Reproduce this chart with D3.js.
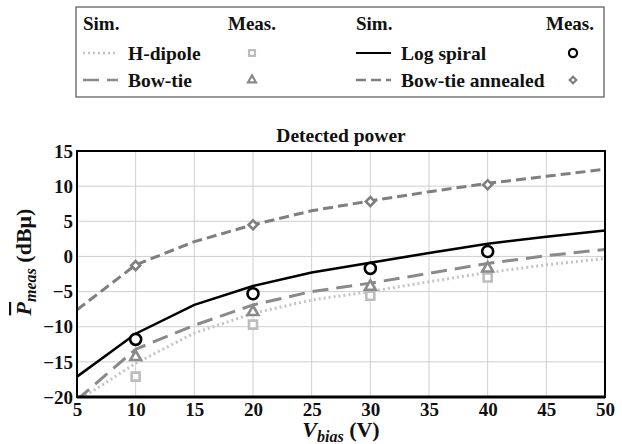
<!DOCTYPE html>
<html lang="en">
<head>
<meta charset="UTF-8">
<title>Detected power</title>
<script src="https://cdn.jsdelivr.net/npm/d3@7"></script>
<style>
  body { margin: 0; background: #fff; }
</style>
</head>
<body>
<svg width="622" height="444" id="mainsvg"></svg>
<script>
// simulated curves, sampled every 5 V
const simV = [5, 10, 15, 20, 25, 30, 35, 40, 45, 50]
const simHDipole = [-20.6, -15.2, -10.9, -8.1, -6.2, -5.0, -3.6, -2.3, -1.2, -0.3]
const simBowtie = [-20.4, -13.2, -9.8, -6.9, -5.0, -3.8, -2.4, -1.0, 0.1, 1.0]
const simLogSpiral = [-17.1, -11.0, -6.9, -4.2, -2.3, -0.9, 0.5, 1.8, 2.8, 3.7]
const simAnnealed = [-7.6, -1.2, 2.1, 4.5, 6.5, 7.9, 9.2, 10.4, 11.4, 12.4]

// measured points
const measV = [10, 20, 30, 40]
const measHDipole = [-17.1, -9.7, -5.6, -3.0]
const measBowtie = [-14.3, -7.9, -4.3, -1.7]
const measLogSpiral = [-11.8, -5.3, -1.7, 0.7]
const measAnnealed = [-1.3, 4.5, 7.8, 10.2]

const xTicks = [5, 10, 15, 20, 25, 30, 35, 40, 45, 50]
const yTicks = [-20, -15, -10, -5, 0, 5, 10, 15]

const FONT = "'Liberation Serif', 'DejaVu Serif', serif"

const series = [
  { name: 'H-dipole', sim: simHDipole, meas: measHDipole, color: '#c4c4c4', mcolor: '#bdbdbd', width: 3, dash: '2,3', symbol: d3.symbolSquare, msize: 64, rot: 0 },
  { name: 'Bow-tie', sim: simBowtie, meas: measBowtie, color: '#8a8a8a', mcolor: '#8a8a8a', width: 3, dash: '16,8', symbol: d3.symbolTriangle, msize: 50, rot: 0 },
  { name: 'Log spiral', sim: simLogSpiral, meas: measLogSpiral, color: '#000', mcolor: '#000', width: 2.5, dash: null, symbol: d3.symbolCircle, msize: 95, rot: 0 },
  { name: 'Bow-tie annealed', sim: simAnnealed, meas: measAnnealed, color: '#7f7f7f', mcolor: '#7f7f7f', width: 3, dash: '10,5', symbol: d3.symbolSquare, msize: 40, rot: 45 }
]

const svg = d3.select('#mainsvg')
const margin = { top: 151, right: 17, bottom: 47, left: 77 }
const width = +svg.attr('width')
const height = +svg.attr('height')
const innerWidth = width - margin.left - margin.right
const innerHeight = height - margin.top - margin.bottom

const g = svg.append('g').attr('transform', `translate(${margin.left},${margin.top})`)

const xScale = d3.scaleLinear().domain([5, 50]).range([0, innerWidth])
const yScale = d3.scaleLinear().domain([-20, 15]).range([innerHeight, 0])

// grid
g.append('g').selectAll('line').data(xTicks).enter().append('line')
  .attr('x1', d => xScale(d)).attr('x2', d => xScale(d))
  .attr('y1', 0).attr('y2', innerHeight)
  .attr('stroke', '#cfcfcf').attr('stroke-width', 1)
g.append('g').selectAll('line').data(yTicks).enter().append('line')
  .attr('y1', d => yScale(d)).attr('y2', d => yScale(d))
  .attr('x1', 0).attr('x2', innerWidth)
  .attr('stroke', '#cfcfcf').attr('stroke-width', 1)

// axes
const xAxis = d3.axisBottom(xScale).tickValues(xTicks).tickSize(0).tickPadding(4)
const yAxis = d3.axisLeft(yScale).tickValues(yTicks).tickSize(0).tickPadding(4)
const gx = g.append('g').attr('transform', `translate(0,${innerHeight})`).call(xAxis)
const gy = g.append('g').call(yAxis)
gx.select('.domain').remove()
gy.select('.domain').remove()
gx.attr('font-family', null)
gy.attr('font-family', null)
svg.selectAll('.tick text').attr('font-size', '19px')
gx.selectAll('.tick text').attr('dy', '0.8em')
gy.selectAll('.tick text').attr('dy', '0.33em')

// lines
const clipId = 'plotclip'
g.append('clipPath').attr('id', clipId).append('rect')
  .attr('width', innerWidth).attr('height', innerHeight)

const line = d3.line().x((d, i) => xScale(simV[i])).y(d => yScale(d))
const plot = g.append('g').attr('clip-path', `url(#${clipId})`)
plot.selectAll('.simline').data(series).enter().append('path')
  .attr('class', 'simline')
  .attr('d', d => line(d.sim))
  .attr('fill', 'none')
  .attr('stroke', d => d.color)
  .attr('stroke-width', d => d.width)
  .attr('stroke-dasharray', d => d.dash)

// markers
series.forEach(s => {
  g.append('g').selectAll('path').data(s.meas).enter().append('path')
    .attr('d', d3.symbol().type(s.symbol).size(s.msize))
    .attr('transform', (d, i) => `translate(${xScale(measV[i])},${yScale(d)}) rotate(${s.rot})`)
    .attr('fill', 'white')
    .attr('stroke', s.mcolor)
    .attr('stroke-width', 2.6)
})

// frame
g.append('rect').attr('width', innerWidth).attr('height', innerHeight)
  .attr('fill', 'none').attr('stroke', '#000').attr('stroke-width', 2)
g.append('line').attr('x1', 0).attr('x2', innerWidth).attr('y1', innerHeight).attr('y2', innerHeight)
  .attr('stroke', '#000').attr('stroke-width', 3)

// title
g.append('text').text('Detected power')
  .attr('x', innerWidth / 2).attr('y', -9)
  .attr('text-anchor', 'middle').attr('font-size', '19.5px')

// x label
const xl = svg.append('text')
  .attr('x', margin.left + innerWidth / 2).attr('y', 437)
  .attr('text-anchor', 'middle').attr('font-size', '22px')
xl.append('tspan').text('V').attr('font-style', 'italic')
xl.append('tspan').text('bias').attr('font-style', 'italic').attr('font-size', '16px').attr('dy', 5)
xl.append('tspan').text(' (V)').attr('dy', -5)

// y label
const yl = svg.append('text')
  .attr('transform', `translate(31,${margin.top + innerHeight / 2 - 12}) rotate(-90)`)
  .attr('text-anchor', 'middle').attr('font-size', '22px')
yl.append('tspan').text('P').attr('font-style', 'italic').attr('text-decoration', 'overline')
yl.append('tspan').text('meas').attr('font-style', 'italic').attr('font-size', '16px').attr('dy', 5)
yl.append('tspan').text(' (dBμ)').attr('dy', -5)

// legend
const lg = svg.append('g')
lg.append('rect').attr('x', 76).attr('y', 7).attr('width', 528).attr('height', 90)
  .attr('fill', 'white').attr('stroke', '#555').attr('stroke-width', 1.2)

const legendCols = [
  { x: 83, items: [series[0], series[1]] },
  { x: 356, items: [series[2], series[3]] }
]
const measX = [252, 573]
legendCols.forEach((col, ci) => {
  lg.append('text').text('Sim.').attr('x', col.x).attr('y', 30).attr('font-size', '19px')
  lg.append('text').text('Meas.').attr('x', measX[ci] + (ci === 0 ? 0 : 21)).attr('y', 30)
    .attr('text-anchor', ci === 0 ? 'middle' : 'end').attr('font-size', '19px')
  col.items.forEach((s, i) => {
    const yy = 53 + i * 27
    lg.append('line').attr('x1', col.x).attr('x2', col.x + 35).attr('y1', yy).attr('y2', yy)
      .attr('stroke', s.color).attr('stroke-width', s.width - 0.5).attr('stroke-dasharray', s.dash)
    lg.append('text').text(s.name).attr('x', col.x + 45).attr('y', yy + 7).attr('font-size', '19.5px')
    lg.append('path').attr('d', d3.symbol().type(s.symbol).size(s.msize * 0.55))
      .attr('transform', `translate(${measX[ci]},${yy}) rotate(${s.rot})`)
      .attr('fill', 'white').attr('stroke', s.mcolor).attr('stroke-width', 2.2)
  })
})

// serif bold everywhere, set inline
svg.selectAll('text')
  .style('font-family', FONT)
  .style('font-weight', 'bold')
  .style('fill', '#111')
</script>
</body>
</html>
